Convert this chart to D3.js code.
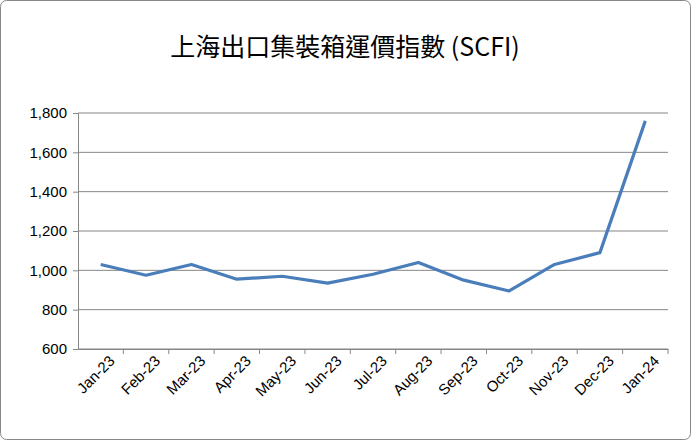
<!DOCTYPE html>
<html>
<head>
<meta charset="utf-8">
<script src="https://cdn.jsdelivr.net/npm/d3@7.9.0/dist/d3.min.js"></script>
<style>
  body { margin: 0; background: #fff; }
  svg { font-family: "Open Sans", "Noto Sans", sans-serif; }
</style>
</head>
<body>
<svg width="691" height="440"></svg>
<script>
const months = ["Jan-23", "Feb-23", "Mar-23", "Apr-23", "May-23", "Jun-23", "Jul-23",
  "Aug-23", "Sep-23", "Oct-23", "Nov-23", "Dec-23", "Jan-24"];
const scfi = [1030, 975, 1030, 955, 970, 935, 980, 1040, 950, 895, 1030, 1090, 1760];
const yTicks = [600, 800, 1000, 1200, 1400, 1600, 1800];

const svg = d3.select("svg");
svg.append("rect").attr("x", 0.5).attr("y", 0.5).attr("width", 690).attr("height", 439)
  .attr("rx", 6).attr("fill", "#fff").attr("stroke", "#888");

const plotLeft = 78, plotRight = 668, plotTop = 113, plotBottom = 349;

const x = d3.scaleBand().domain(months).range([plotLeft, plotRight]);
const y = d3.scaleLinear().domain([600, 1800]).range([plotBottom, plotTop]);

// gridlines
svg.append("g").selectAll("line").data(yTicks).join("line")
  .attr("x1", plotLeft).attr("x2", plotRight)
  .attr("y1", d => y(d)).attr("y2", d => y(d))
  .attr("stroke", "#868686").attr("stroke-width", 1);

// y axis
const yAxis = svg.append("g").attr("transform", `translate(${plotLeft},0)`)
  .call(d3.axisLeft(y).tickValues(yTicks).tickSize(5).tickPadding(6));
yAxis.select(".domain").attr("stroke", "#868686");
yAxis.selectAll(".tick line").attr("stroke", "#868686");
yAxis.selectAll("text").attr("font-size", 15).attr("fill", "#000");

// x axis
const xAxis = svg.append("g").attr("transform", `translate(0,${plotBottom})`)
  .call(d3.axisBottom(x).tickSize(0).tickPadding(8));
xAxis.select(".domain").attr("stroke", "#868686");
xAxis.selectAll(".tick text")
  .attr("font-size", 15).attr("fill", "#000")
  .attr("text-anchor", "end")
  .attr("transform", "translate(4,2) rotate(-45)")
  .attr("dy", "0.5em");
// band boundary ticks
svg.append("g").selectAll("line").data(months).join("line")
  .attr("x1", d => x(d) + x.bandwidth()).attr("x2", d => x(d) + x.bandwidth())
  .attr("y1", plotBottom).attr("y2", plotBottom + 5).attr("stroke", "#868686");

// line
const line = d3.line()
  .x((d, i) => x(months[i]) + x.bandwidth() / 2)
  .y(d => y(d));
svg.append("path").datum(scfi).attr("d", line)
  .attr("fill", "none").attr("stroke", "#4a7ebb").attr("stroke-width", 3.2)
  .attr("stroke-linejoin", "round");

// title
svg.append("text").attr("x", 345).attr("y", 56).attr("text-anchor", "middle")
  .attr("font-family", "'Noto Sans CJK TC', 'Noto Sans CJK SC', sans-serif")
  .attr("font-size", 25).attr("fill", "#000")
  .text("上海出口集裝箱運價指數 (SCFI)");
</script>
</body>
</html>
